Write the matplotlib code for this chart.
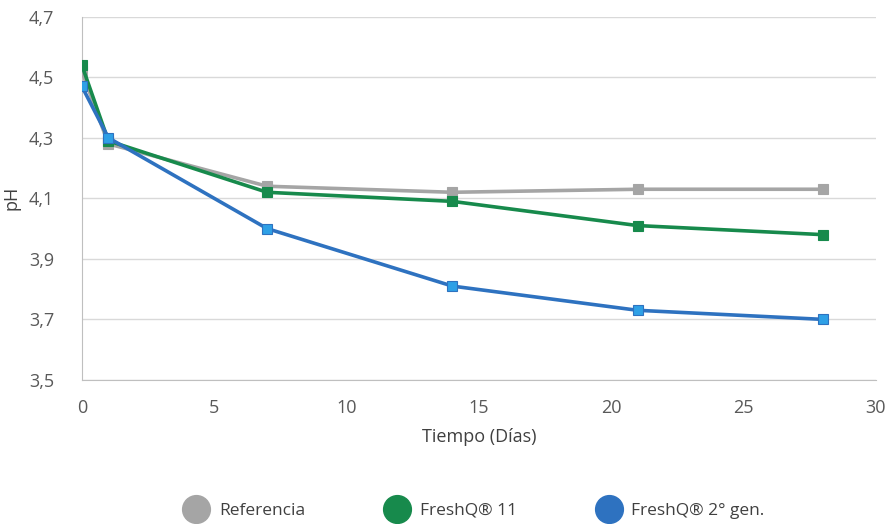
import matplotlib.pyplot as plt
from matplotlib.lines import Line2D

plt.rcParams['font.family'] = ['Open Sans', 'DejaVu Sans']

dias = [0, 1, 7, 14, 21, 28]
referencia = [4.52, 4.28, 4.14, 4.12, 4.13, 4.13]
freshq_11 = [4.54, 4.29, 4.12, 4.09, 4.01, 3.98]
freshq_2gen = [4.47, 4.30, 4.00, 3.81, 3.73, 3.70]

series_names = ['Referencia', 'FreshQ® 11', 'FreshQ® 2° gen.']
line_colors = ['#a5a5a5', '#178a4c', '#2e72c0']
marker_colors = ['#a5a5a5', '#178a4c', '#2ea0e6']

fig = plt.figure(figsize=(8.9, 5.24), dpi=100)
ax = fig.add_axes([0.092, 0.275, 0.892, 0.693])

for vals, lc, mc in zip([referencia, freshq_11, freshq_2gen], line_colors, marker_colors):
    ax.plot(dias, vals, color=lc, lw=2.6, marker='s', markersize=7,
            markerfacecolor=mc, markeredgecolor=lc, markeredgewidth=0.8, zorder=3)

ax.set_xlim(0, 30)
ax.set_ylim(3.5, 4.7)
ax.set_xticks(range(0, 31, 5))
yt = [3.5, 3.7, 3.9, 4.1, 4.3, 4.5, 4.7]
ax.set_yticks(yt)
ax.set_yticklabels([f'{v:.1f}'.replace('.', ',') for v in yt])
ax.grid(axis='y', color='#d9d9d9', lw=1)
ax.set_axisbelow(True)
for s in ['top', 'right']:
    ax.spines[s].set_visible(False)
for s in ['left', 'bottom']:
    ax.spines[s].set_color('#bfbfbf')
ax.tick_params(colors='#595959', labelsize=13, length=0)
ax.tick_params(axis='x', pad=14)
ax.tick_params(axis='y', pad=20)
ax.set_xlabel('Tiempo (Días)', color='#404040', fontsize=13, labelpad=8)
ax.set_ylabel('pH', color='#404040', fontsize=13, labelpad=6)

handles = [Line2D([], [], ls='', marker='o', markersize=20, color=c) for c in line_colors]
fig.legend(handles, series_names, loc='lower center', bbox_to_anchor=(0.53, -0.02), ncol=3,
           frameon=False, fontsize=12.5, labelcolor='#404040', columnspacing=4.3,
           handletextpad=0.3)

fig.savefig('out.png', dpi=100)
